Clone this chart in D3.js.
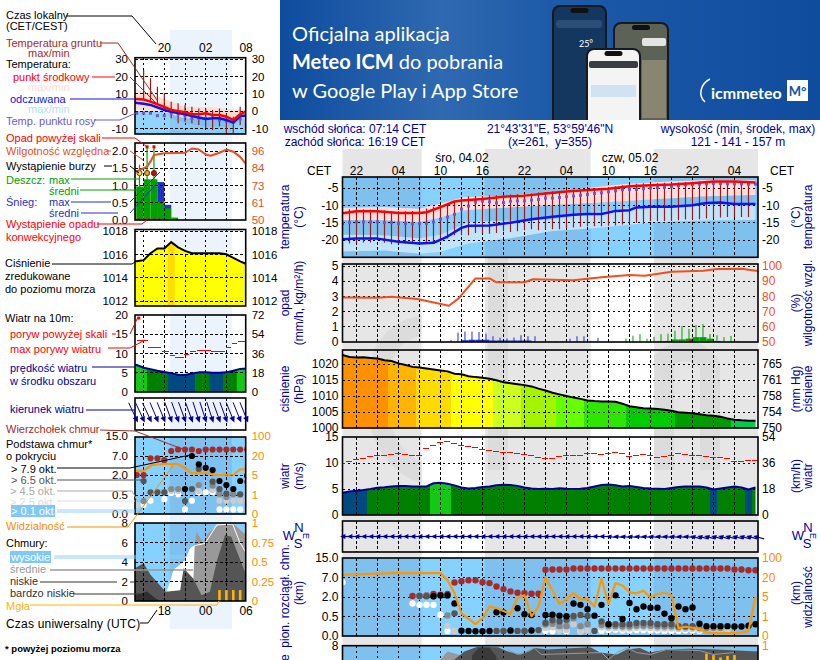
<!DOCTYPE html>
<html lang="pl">
<head>
<meta charset="UTF-8">
<title>Meteogram ICM</title>
<script src="https://cdn.jsdelivr.net/npm/d3@7"></script>
<style>
  html, body { margin: 0; padding: 0; background: #fff; overflow: hidden; }
  svg { display: block; }
  text { font-family: "Liberation Sans", Arial, sans-serif; font-size: 12px; white-space: pre; }
</style>
</head>
<body>
<svg id="chart" width="820" height="660"></svg>
<script>
// ---- data. "L" = small left legend chart, "R" = main chart
// hours are counted from 00 local on the day before the first date
const hoursR = d3.range(20, 80);
const hoursL = d3.range(15, 33);

// main chart: temperature
const tempMidH = [20,22,25,28,31,32,34,36,37,40,43,46,49,52,55,58,61,64,67,70,73,76,79];
const tempMid = [-12.3,-11.7,-11.7,-12.2,-12.2,-12,-10.5,-8.9,-8.6,-8.2,-7.5,-7.2,-6.6,-6,-5.6,-5.2,-4.5,-4.2,-4,-3.6,-3.1,-3.1,-3.4];
const tempFeelH = [20,22,25,28,31,33,35,37,38,41,44,47,50,53,55,57,59,61,62,64,67,70,72,74,76,79];
const tempFeel = [-19.8,-19.6,-19.6,-20.5,-21,-20.8,-19,-16.5,-15.9,-15.8,-15,-14,-13.3,-12.7,-12.5,-12.5,-11.6,-11.4,-10.6,-10.4,-10.4,-10,-9.3,-9.2,-9.6,-9.6];
const pinkH = [20,26,31,34,37.5,43,50,55,60,65,72,79];
const pinkTop = [-10.7,-10.5,-11,-9.5,-7.6,-7.2,-6.2,-5,-3.9,-3.3,-2.7,-2.8];
const pinkBot = [-14.2,-14.3,-14.8,-13.5,-11.4,-10.7,-9.9,-9.4,-8.8,-8.2,-7.4,-7];
const lightH = [20,26,31,34,38,44,50,56,62,65,72,79];
const lightTop = [-18.5,-18.6,-19.5,-18.5,-14.8,-14.4,-14,-12,-10.5,-10.2,-9.8,-9.7];
const lightBot = [-23.3,-23,-24,-23.4,-21,-19.5,-17.4,-16.6,-15.4,-14.8,-14.4,-14.2];
const dewR = [-15.2,-15,-14.8,-14.8,-14.8,-14.8,-15,-15,-15.2,-15.2,-15.3,-15.2,-15.2,-14.8,-14,-13.4,-12.6,-11.1,-10.2,-9.1,-8.8,-9,-9.3,-9.2,-8.8,-8.7,-8.7,-8.5,-8.3,-7.9,-7.9,-7.7,-7.5,-7.3,-7.1,-6.9,-6.6,-6.4,-6.1,-5.8,-5.5,-5.4,-5.4,-5.2,-5,-4.9,-4.8,-4.6,-4.3,-4.1,-4,-3.9,-3.8,-3.7,-3.7,-3.8,-3.8,-3.8,-3.9,-3.9];
const groundH = d3.range(21, 79);
const groundMaxR = [-11.1,-11.1,-11.2,-11.3,-11.4,-11.5,-11.6,-11.7,-11.7,-11.6,-11.3,-10.9,-10.4,-10,-9.4,-8.8,-8.1,-7.4,-7.3,-7.3,-7.1,-7.1,-7.1,-6.9,-6.8,-6.7,-6.6,-6.3,-6.2,-6,-5.9,-5.8,-5.7,-5.4,-5.2,-5.2,-5,-4.7,-4.5,-4.2,-3.9,-3.8,-3.6,-3.6,-3.6,-3.5,-3.4,-3.4,-3.3,-3.2,-3.1,-3.4,-3.1,-3.1,-3.1,-3.1,-3.2,-3.2];
const groundMinR = [-21,-20.8,-20.7,-20.7,-20.1,-20.8,-21.2,-21,-21,-21,-20.8,-21,-20.8,-20.1,-19.6,-18.6,-18.6,-18.6,-18,-18,-18.2,-18,-17.5,-17.7,-17.5,-17.2,-16.9,-17.2,-16.9,-16.9,-16.9,-16.6,-16.4,-16.2,-16,-16,-16,-15.9,-15.8,-15.5,-15.1,-15,-15.3,-14.6,-14.6,-14.5,-14.5,-14.3,-14.1,-14.1,-14,-13.8,-13.5,-13.5,-13.4,-13.4,-13.4,-13.4];

// main chart: precipitation and humidity
const humH = [20,25,27,30.7,35.2,36.6,39,41,42,46,47.2,53,57,61,63.2,67,71.6,73.5,77,79.4];
const humR = [79.5,79.3,79.9,78.4,74,78.9,92.2,92.2,89.6,89.6,91.6,90.9,92.9,94.4,94,96.7,97.3,98.4,98.7,97.1];
const snowMaxH = d3.range(35, 60);
const snowMax = [.1,.6,.67,.67,.64,.53,.36,.26,.21,.28,.43,.36,.36,.03,.05,.03,.05,.2,.36,.36,.05,.25,0,0,0];
const rainMaxH = d3.range(60, 77);
const rainMax = [.2,.4,.5,.2,.32,.5,.53,.73,1.03,.85,1.1,1.17,.5,.43,.3,.38,.05];
const snowMeanH = d3.range(37, 47);
const snowMean = [.1,.13,.13,.13,.08,.08,.08,.08,.08,.08];
const rainMeanH = d3.range(65, 74);
const rainMean = [.03,.05,.15,.15,.2,.3,.3,.2,.05];

// main chart: pressure, wind
const presR = [1022.8,1022.2,1022,1022.1,1021.9,1021.7,1021.2,1020.95,1020.2,1019.7,1019.1,1018.9,1018.6,1018.3,1018,1017.7,1016.95,1016.8,1016.2,1015.9,1015.7,1015.4,1014.9,1014.3,1014,1013.7,1013.4,1013,1012.3,1011.7,1011,1010.5,1010,1009.5,1009.1,1008.6,1008.4,1008.3,1008.3,1008.2,1007.6,1006.8,1006.5,1006.2,1006.1,1005.9,1005.7,1005.4,1004.9,1004.8,1004.6,1004.3,1004,1003.8,1003.5,1003,1002.6,1002.4,1002.3,1002.3];
const presBreaks = [1002.7,1005,1006.9,1008.7,1011,1013.5,1015.1,1017,1019,1021];
const presColors = ["#00cc50","#009c00","#00cc00","#2ee600","#66ff00","#a4f400","#ccff20","#ffff00","#ffdc00","#ffb400","#ff9000"];
const windR = [4.3,4.5,4.65,4.8,5,5.25,5.35,5.5,5.6,5.6,5.5,5.5,5.5,6.1,6.2,6,5.7,5.3,5.1,5.2,5.4,5.5,5.7,5.8,5.75,5.6,5.3,5.1,5,5.05,5,5.15,5.05,5,5.05,5.2,5.5,5.75,5.85,5.7,5.5,5.6,5.4,5.2,5.1,5.05,5,5.2,5.4,5.5,5.5,5.5,5.3,4.9,5.1,5.3,5.5,5.3,4.9,5.3];
const gustR = [9.9,10.3,10.6,10.8,11.3,11.5,11.5,11.7,11.9,11.7,11.5,11.5,12.8,13.3,13.9,14.2,13.8,13.4,13.2,12.9,12.6,12.4,12.2,12,12,11.9,11.7,11.4,11,10.9,10.9,11.2,11.4,11.5,11.5,11.9,11.9,11.6,11.8,12,11.9,11.3,11.4,11.6,11.4,11.1,11.2,11.5,11.9,11.6,11.4,11.4,11.3,11.1,11,10.8,10.2,10.2,10.4,10.4];
const windBreaks = [5, 6];
const windColors = ["#004a80", "#008000", "#14c814"];
const dirR = hoursR.map(h => h < 58 ? 90 : h < 70 ? 97 : 105);

// main chart: cloud base dots
const topH = d3.range(30, 80);
const topR = [2.25,2.25,2.4,2.76,2.6,2.76,5.7,6.07,6.3,6.3,5.8,5.56,4.7,4.03,3.44,3.1,3,2.85,2.85,10.2,10.3,10.3,10.3,10.7,10.7,10.7,10.7,10.7,10.7,10.7,10.7,10.7,10.7,10.7,10.7,10.7,10.7,10.7,10.7,10.7,10.7,10.7,10.7,10.7,10.7,10.7,10.3,10.3,10,10];
const blackH = [33,34,35,36,37,38,39,40,41,42,43,44,45,46,47,47,49,50,51,52,53,54,55,56,57,58,59,60,61,62,63,64,65,66,67,68,69,70,71,72,73,74,75,76,77,78,79];
const blackR = [2.2,2.4,2.4,1.5,.136,.127,.12,.12,.127,.82,.79,.14,1.13,.66,.6,.14,.6,.63,.55,.5,1.5,1.39,1.05,.55,1.39,.3,2.42,.43,1.53,1.05,1.26,1.16,1.16,.71,.45,1.26,1.05,1.18,.31,.25,.25,.25,.25,.24,.24,.26,.3];
const dark55H = [31,32,33,36,42,43,45,46,48,49,50,51,52,53,54,55,56,57,58,59,60,61,62,63,64,65,66,67,68,69,70];
const dark55R = [2.25,2.2,2.2,.73,.13,.13,.13,.13,.15,.33,.4,.37,.41,.52,.6,.52,.13,.37,.3,.3,.3,.3,.33,.33,.33,.3,.3,.3,.25,.25,.25];
const grey88H = [31,32,35,44,46,49,50,51,52,53,54,55,57,58,59,60,61,62,63,64,65,66,67,68,69,70,71,72,73,74];
const grey88R = [2.25,2.4,.57,.13,.13,.29,.31,.25,.25,.45,.25,.3,.28,.25,.25,.24,.24,.26,.26,.26,.24,.24,.24,.22,.22,.22,.2,.2,.2,.2];
const lightCcH = [31,35,36,49,50,51,52,53,54,55,56,57,58,59,60,61,62,63,64,65,66,67,68,69,70,71,72,73,74,75];
const lightCcR = [2.1,.26,.13,.2,.22,.13,.15,.3,.13,.14,.13,.22,.2,.2,.19,.19,.21,.21,.2,.19,.19,.19,.18,.18,.18,.16,.16,.16,.16,.16];
const whiteH = [20,30,31,32,33,34,35,49,50,52,54,57,58,59,60,61,62,63,64,65,66,67,68,69,70,71];
const whiteR = [5.8,1.5,1.39,1.4,1.39,.62,.13,.13,.12,.12,.12,.13,.15,.16,.14,.14,.15,.15,.14,.14,.13,.13,.13,.14,.14,.13];
const visH = [20,27,34,35,36,37,39,40,41,42,43,44,45,46,47,48,49,50,51,52,53,54,55,56,57,58,59,60,61,62,63,64,65,66,67,68,69,70,71,72,73,76,77,78,79];
const visR = [31,38,38,18,8,1.6,.6,.9,3,2.7,2.1,1.5,4.8,6.3,1,3,20,9.8,3.6,4.5,8,4.5,4.6,3,19,3.5,15.7,13.9,8.6,7.8,9.8,4.9,7.3,8.3,6.3,.4,.47,.42,.36,.18,.15,.15,.18,.25,5];

// main chart: clouds (only the top of this panel fits on the page)
const midRH = [34,35,36,37];
const midR = [6.6,7.4,7.2,7];
const lowRH = [36,37.4,39.3,42.2,43.6,45.5,47.4,49.3,55.4,56.8,59.2,60.6,62.5,63.9,66.3,69.6,73.4,79.4];
const lowR = [6.6,7.4,7.9,7.85,7.4,7.1,7.76,7.6,7.84,7.3,7.1,7.6,7.76,7.3,7.6,7.7,7.6,7.4];
const veryLowRH = [38.5,39.5,41,42];
const veryLowR = [7,7.8,7.8,6.9];
const midLineH = [43.6,45,46.5,47.4,48.4,57,58,59.4,60.8,62,64,66.3,71,73,76];
const midLine = [7.6,7.1,7.4,7.76,7.1,7.3,6.6,7.4,7.76,7.3,7.1,7.6,7.5,7.1,7.3];
const fogRH = [72,73,74,75,76];
const fogR = [.9,.88,.85,.87,.88];

// left chart: temperature
const midLH = [15.75,17,18,20,21,23,24,25,26,27,28,29,30,31,31.8];
const midL = [6.9,6.6,5.4,2.3,.6,-.7,-1.9,-1.9,-1.3,-2.3,-2.3,-3.3,-5.2,-1.9,-.4];
const feelL = [4.8,4.2,3.5,.6,-.4,-1.9,-2.9,-3.8,-4.6,-4.2,-4.2,-5.2,-6.7,-2.9,-2.7];
const pinkLH = [15.75,20,23,26,29,31.8];
const pinkTopL = [13,7,2.5,2.5,1.1,.6];
const pinkBotL = [.6,-.7,-4.2,-4.2,-5,-4.2];
const lightLH = [15.75,20,21,23,26,29,31.8];
const lightTopL = [-.4,-1.3,-4.2,-7.1,-9,-9,-9];
const lightBotL = [-12,-12,-11,-12,-12.5,-12.5,-12.5];
const dewLH = d3.range(16, 32);
const dewL = [-1.3,-1.3,-1.3,-2.7,-2.7,-1.3,-1.9,-2.9,-4.2,-4.2,-4.2,-3.8,-5.2,-5.8,-6.2,-4.6];
const groundLH = d3.range(17, 32);
const groundMaxL = [23.7,18.9,14,10.2,5.4,4.5,3.5,2.5,1.5,1.5,.6,1.5,-1.4,-3.3,2.5];
const groundMinL = [7.3,5.4,3.5,.6,-4.2,-7.1,-6.2,-7.1,-8.1,-10,-11,-9,-12.9,-12.9,-8.1];

// left chart: precipitation and humidity
const humLH = [15.75,16.4,17.5,18,18.5,20,23,24,25,26,26.7,28,29,30,31,31.8];
const humL = [81.7,82.8,85,88.5,92.7,93.8,94.2,97,96.3,93,92.2,94.2,96.3,94.9,91.5,87];
const rainLH = [15,16,17,18,19,20,21];
const rainMeanL = [.97,.97,1.18,1.18,.53,.34,.07];
const snowMaxL = [0,0,0,0,1.1,.44,0];
const rainSpikeH = [16.4,17.5,18.5];
const rainSpikeL = [1.6,2.1,2.1];
const stormColors = ["#ffe100", "#f5a000", "#e00000"];

// left chart: pressure, wind
const presL = [1015.4,1015.4,1015.5,1016.1,1016.5,1016.5,1017.05,1016.6,1016.3,1016.1,1016.1,1016.1,1016.1,1016.1,1016,1015.7,1015.4,1015.15];
const windL = [7.2,7,6.3,5.9,5.5,5.2,4.9,4.5,4.4,4.8,5.1,5.1,4.98,4.98,5.1,5.5,6,6.1];
const gustStart = [16,17.7,19.6,20.8,21.6,22.9,23.7,24.7,26.8,28.9,29.8,30.7];
const gustEnd = [17.7,19.5,20.7,21.5,22.8,23.6,24.6,26.7,28.8,29.7,30.6,31.8];
const gustL = [13.5,11.6,10.5,9.6,8.9,9.8,10.5,10.8,10.5,11.6,12.7,13];
const dirLH = d3.range(16, 33);
const dirL = [335,335,335,337,338,340,340,340,340,342,342,342,340,340,338,338,338];

// left chart: cloud base dots
const topLH = d3.range(16, 33);
const topL = [2,2,6.4,6.4,5.9,9,9.6,9.6,9.6,9,9.6,9.6,9.6,9.6,9.6,9.6,9.6];
const blackLH = [23,24,25,26,27,28,29,30,31,32];
const blackL = [.95,7,4.8,3.9,3.3,1.55,1.25,.95,1.55,1.95];
const dark55LH = [17,18,19,20,23,24,25,27,28,29,31,32];
const dark55L = [1.55,.7,.7,.7,.34,.95,3.6,1.5,.95,.6,.55,1.5];
const grey88LH = [17,21,22,25,27,28,29,30,31];
const grey88L = [.34,.95,.95,1.25,1.2,.6,.45,.55,.55];
const lightCcLH = [16,21,22,25,27,28,29,30,31,32];
const lightCcL = [.24,.8,.8,.8,.87,.35,.35,.35,.35,.35];
const whiteLH = [17,18,20,21,22,23,24,25,26,27,28,29,30,31];
const whiteL = [.24,.35,.39,.65,.55,.12,.35,.7,.7,.7,.12,.12,.12,.12];
const visLH = [15.75,17,18.2,20,22,23,24,26,27.2,28.2,30.1,31,31.8];
const visL = [8.2,8.2,12.9,13.7,13.7,10.3,6.3,6.8,5,5,5.4,9.5,9.5];

// left chart: clouds
const highLH = [20.4,20.9,21.4,22.3,23.1,23.8,24.5,25.9,27.6,29.9,30.9,31.8];
const highL = [.96,2,3.2,3.7,4.2,5.4,5.7,5.9,7.8,7.9,6.1,5];
const midCloudLH = [24.1,24.4,24.7,25.6,26.3,27.8,29.9,31.8];
const midCloudL = [0,5.7,7.1,5.9,6.9,7.8,8,6.8];
const lowLH = [15.75,17,18,20,20.2,22.3,22.8,24.2,25.4,26.6,27.6,28.8,29.7,31.2,31.8];
const lowL = [3.35,3.87,2.7,1.1,.96,1.1,3.35,2.3,.6,.96,4.05,6.77,6.6,3.87,2.8];
const veryLowLH = [15.75,17.5,18.7,19.4];
const veryLowL = [.56,.97,.27,0];
const fogLH = [28,29,30,31];
const fogL = [.14,.14,.14,.14];

// ---- tick labels
const tempTicksL = [30,20,10,0,-10];
const rainTicksL = [0,.5,1,1.5,2];
const rainLabelsR = {0:"50",.5:"61",1:"73",1.5:"84",2:"96"};
const presTicksL = [1012,1014,1016,1018];
const windTicksL = [0,5,10,15,20];
const baseTicks = [0,.5,2,7,15];
const visTicks = [0,1,5,20,100];
const cloudTicks = [0,2,4,6,8];
const fogTicks = [0,.25,.5,.75,1];
const tempTicksR = [-5,-10,-15,-20];
const presTicksR = [1000,1005,1010,1015,1020];
const mmHgLabels = ["750","754","758","761","765"];

const blue = "#000099", orange = "#ff8c00";
const svg = d3.select("#chart");
const xL = d3.scaleLinear().domain([15.75, 31.8]).range([135, 245.7]);
const xR = d3.scaleLinear().domain([20, 79.36]).range([342.5, 758]);
const nightR = [[20, 31.3], [40.35, 55.45], [64.5, 79.36]];
let clipId = 0;

function txt(g, x, y, s, color, anchor, weight) {
  return g.append("text").attr("x", x).attr("y", y).attr("fill", color || "#000")
    .attr("text-anchor", anchor || "start").attr("font-weight", weight || null).text(s);
}
// legend text of the left chart is a bit smaller
function ltxt(x, y, s, color) {
  return txt(svg, x, y, s, color).style("font-size", "11px");
}
function vtxt(g, x, y, s, color, anchor) {
  return g.append("text").attr("transform", `translate(${x},${y}) rotate(-90)`)
    .attr("fill", color).attr("text-anchor", anchor || "middle").text(s);
}
function lead(pts, color, w) {
  svg.append("path").attr("d", d3.line()(pts)).attr("fill", "none")
    .attr("stroke", color).attr("stroke-width", w || 1);
}

// a panel: clip, grid on request, border on request
function panel(x, y0, y1) {
  const id = "c" + (clipId++);
  const x0 = x.range()[0], x1 = x.range()[1];
  svg.append("clipPath").attr("id", id).append("rect")
    .attr("x", x0).attr("y", y0).attr("width", x1 - x0).attr("height", y1 - y0);
  const g = svg.append("g").attr("clip-path", `url(#${id})`);
  return { g, x0, x1, y0, y1, x };
}
function grid(p, y, values, hours) {
  const gg = p.g.append("g").attr("stroke", "#000").attr("stroke-dasharray", "2.5,2.5")
    .attr("shape-rendering", "crispEdges");
  gg.selectAll(".h").data(values).join("line").attr("class", "h")
    .attr("x1", p.x0).attr("x2", p.x1).attr("y1", d => y(d)).attr("y2", d => y(d));
  gg.selectAll(".v").data(hours).join("line").attr("class", "v")
    .attr("y1", p.y0).attr("y2", p.y1).attr("x1", d => p.x(d)).attr("x2", d => p.x(d));
}
function border(p) {
  svg.append("rect").attr("x", p.x0).attr("y", p.y0).attr("width", p.x1 - p.x0).attr("height", p.y1 - p.y0)
    .attr("fill", "none").attr("stroke", "#000").attr("stroke-width", 1.6);
}
function yAxis(p, scale, values, side, pad, color, fmt) {
  const ax = (side === "left" ? d3.axisLeft(scale) : d3.axisRight(scale))
    .tickValues(values).tickSize(0).tickPadding(pad).tickFormat(fmt || (d => d));
  const g = svg.append("g").attr("transform", `translate(${side === "left" ? p.x0 : p.x1},0)`).call(ax);
  g.select(".domain").remove();
  g.selectAll("text").attr("fill", color || "#000").style("font-size", p.x === xL ? "11.5px" : "12px")
    .style("font-family", '"Liberation Sans", Arial, sans-serif');
  return g;
}
function band(p, y, hs, top, bot, color, op) {
  p.g.append("path").datum(hs).attr("fill", color).attr("opacity", op || 1)
    .attr("d", d3.area().x(h => p.x(h)).y0((h, i) => y(bot[i])).y1((h, i) => y(top[i])));
}
function line(p, y, hs, vals, color, w) {
  p.g.append("path").datum(hs).attr("fill", "none").attr("stroke", color).attr("stroke-width", w)
    .attr("stroke-linejoin", "round")
    .attr("d", d3.line().x(h => p.x(h)).y((h, i) => y(vals[i])));
}
function vbars(p, y, hs, hi, lo, color, w, dx) {
  p.g.selectAll(null).data(hs).join("line").attr("stroke", color).attr("stroke-width", w)
    .attr("x1", h => p.x(h + (dx || 0))).attr("x2", h => p.x(h + (dx || 0)))
    .attr("y1", (h, i) => y(hi[i])).attr("y2", (h, i) => y(lo ? lo[i] : 0));
}
function dots(p, y, hs, vals, color, r) {
  p.g.selectAll(null).data(hs).join("circle").attr("r", r).attr("fill", color)
    .attr("cx", h => p.x(h)).attr("cy", (h, i) => y(vals[i]));
}
function squares(p, y, hs, vals, color, s) {
  p.g.selectAll(null).data(hs).join("rect").attr("width", s).attr("height", s).attr("fill", color)
    .attr("x", h => p.x(h) - s / 2).attr("y", (h, i) => y(vals[i]) - s / 2);
}
// blocks one hour wide, coloured from the value and cut off at the line on top
function hourBlocks(p, y, hs, vals, color) {
  const id = "c" + (clipId++);
  svg.append("clipPath").attr("id", id).append("path").datum(hs)
    .attr("d", d3.area().x(h => p.x(h)).y0(p.y1).y1((h, i) => y(vals[i])));
  const g = p.g.append("g").attr("clip-path", `url(#${id})`);
  g.selectAll(null).data(hs).join("rect")
    .attr("x", h => p.x(h - .5)).attr("width", h => p.x(h + .5) - p.x(h - .5) + .5)
    .attr("y", p.y0).attr("height", p.y1 - p.y0)
    .attr("fill", (h, i) => color(vals[i]));
}
function arrows(g, x, hs, dirs, yc, len, head, w) {
  hs.forEach((h, i) => {
    const a = dirs[i] * Math.PI / 180, sx = Math.sin(a), cy = Math.cos(a), px = x(h);
    g.append("line").attr("x1", px).attr("y1", yc).attr("x2", px + sx * len).attr("y2", yc - cy * len)
      .attr("stroke", blue).attr("stroke-width", w);
    g.append("path").attr("fill", blue).attr("d", d3.line()([
      [px - sx * head, yc + cy * head],
      [px + sx * head * 1.2 + cy * head, yc - cy * head * 1.2 + sx * head],
      [px + sx * head * 1.2 - cy * head, yc - cy * head * 1.2 - sx * head]]));
  });
}

// ---- banner
const defs = svg.append("defs");
const bg = defs.append("linearGradient").attr("id", "ban").attr("x1", 0).attr("x2", 1);
[[0, "#0e4c9e"], [.3, "#2f69b0"], [.5, "#1d5aa8"], [.8, "#1652a3"], [1, "#0f4c9e"]]
  .forEach(s => bg.append("stop").attr("offset", s[0]).attr("stop-color", s[1]));
svg.append("clipPath").attr("id", "banClip").append("rect").attr("x", 280).attr("y", 0).attr("width", 540).attr("height", 120);
const ban = svg.append("g").attr("clip-path", "url(#banClip)");
ban.append("rect").attr("x", 280).attr("y", 0).attr("width", 540).attr("height", 120).attr("fill", "url(#ban)");
ban.append("text").attr("x", 292).attr("y", 41).style("font", "20px Lato").attr("fill", "#fff").text("Oficjalna aplikacja");
const b2 = ban.append("text").attr("x", 292).attr("y", 69).style("font", "20px Lato").attr("fill", "#fff");
b2.append("tspan").style("font-weight", "bold").text("Meteo ICM");
b2.append("tspan").text(" do pobrania");
ban.append("text").attr("x", 292).attr("y", 98).style("font", "20px Lato").attr("fill", "#fff").text("w Google Play i App Store");
function phone(x, y, w, screen) {
  ban.append("rect").attr("x", x).attr("y", y).attr("width", w).attr("height", 140).attr("rx", 8).attr("fill", "#16191d");
  ban.append("rect").attr("x", x + 2).attr("y", y + 2).attr("width", w - 4).attr("height", 136).attr("rx", 6).attr("fill", screen);
  ban.append("rect").attr("x", x + w / 2 - 9).attr("y", y + 3).attr("width", 18).attr("height", 5).attr("rx", 2.5).attr("fill", "#111");
}
phone(552, 5, 55, "#14375f");
ban.append("rect").attr("x", 556).attr("y", 20).attr("width", 46).attr("height", 8).attr("rx", 3).attr("fill", "#2b4d78");
ban.append("text").attr("x", 586).attr("y", 47).attr("fill", "#fff").attr("text-anchor", "middle").style("font", "9px Lato").text("25°");
phone(613, 22, 56, "#5d6257");
ban.append("rect").attr("x", 642).attr("y", 38).attr("width", 24).attr("height", 8).attr("rx", 2).attr("fill", "#e4e4e4");
ban.append("rect").attr("x", 642).attr("y", 60).attr("width", 24).attr("height", 58).attr("fill", "#8a8570");
phone(586, 48, 55, "#f4f4f4");
ban.append("rect").attr("x", 589).attr("y", 61).attr("width", 49).attr("height", 7).attr("rx", 2).attr("fill", "#3a3d42");
ban.append("rect").attr("x", 591).attr("y", 85).attr("width", 45).attr("height", 12).attr("fill", "#cfe3f3");
ban.append("path").attr("d", "M710,79 C700,84 698,96 705,102").attr("fill", "none").attr("stroke", "#fff").attr("stroke-width", 1.5);
ban.append("text").attr("x", 711).attr("y", 99).attr("fill", "#fff").style("font", "bold 16px Lato").text("icmmeteo");
ban.append("rect").attr("x", 787).attr("y", 80).attr("width", 21).attr("height", 21).attr("fill", "#fff");
ban.append("text").attr("x", 797.5).attr("y", 96).attr("text-anchor", "middle").attr("fill", "#1652a3").style("font", "bold 13px Lato").text("M°");

// night columns behind the main chart, with the faint logo in them
nightR.forEach(n => svg.append("rect").attr("x", xR(n[0])).attr("y", 149).attr("width", xR(n[1]) - xR(n[0]))
  .attr("height", 511).attr("fill", "#e6e6e6"));
svg.append("clipPath").attr("id", "nightClip").selectAll("rect").data(nightR).join("rect")
  .attr("x", n => xR(n[0])).attr("y", 149).attr("width", n => xR(n[1]) - xR(n[0])).attr("height", 511);
const mark = svg.append("g").attr("clip-path", "url(#nightClip)").attr("fill", "none").attr("stroke", "#dcdcdc").attr("stroke-width", 20);
mark.append("path").attr("d", "M440,325 C385,320 370,370 377,410 C383,450 405,470 430,475");
mark.append("path").attr("d", "M498,255 V470");
mark.append("path").attr("d", "M664,470 V360 C680,345 700,350 710,365 V470");

// ---- header text of the main chart
txt(svg, 355, 133, "wschód słońca: 07:14 CET", blue, "middle");
txt(svg, 355, 146, "zachód słońca: 16:19 CET", blue, "middle");
txt(svg, 550, 133, "21°43'31\"E, 53°59'46\"N", blue, "middle");
txt(svg, 550, 146, "(x=261,  y=355)", blue, "middle");
txt(svg, 738, 133, "wysokość (min, środek, max)", blue, "middle");
txt(svg, 738, 146, "121 - 141 - 157 m", blue, "middle");
txt(svg, 462, 162, "śro, 04.02", "#000", "middle");
txt(svg, 630, 162, "czw, 05.02", "#000", "middle");
txt(svg, 319, 175, "CET", "#000", "middle");
txt(svg, 782, 175, "CET", "#000", "middle");

const hourLabelsR = [22, 28, 34, 40, 46, 52, 58, 64, 70, 76];
hourLabelsR.forEach(h => txt(svg, xR(h), 175, d3.format("02")(h % 24), "#000", "middle"));
const gridR = d3.range(22, 79, 3);
const gridL = d3.range(17, 32, 3);

// ---- left chart: light night stripe
svg.append("rect").attr("x", xL(20.8)).attr("y", 30).attr("width", xL(29.8) - xL(20.8)).attr("height", 599).attr("fill", "#ebf3fd");
[20, 26, 32].forEach((h, i) => txt(svg, xL(h) - (i === 2 ? 1 : 0), 52, ["20","02","08"][i], "#000", "middle"));
[20, 26, 32].forEach((h, i) => txt(svg, xL(h) - (i === 2 ? 1 : 0), 615, ["18","00","06"][i], "#000", "middle"));

// ---- left: temperature
{
  const p = panel(xL, 57.7, 134);
  const y = d3.scaleLinear().domain([0, 30]).range([111, 59]);
  p.g.append("rect").attr("x", p.x0).attr("width", p.x1 - p.x0).attr("y", y(0)).attr("height", p.y1 - y(0)).attr("fill", "#85d1ff");
  p.g.append("rect").attr("x", xL(20.8)).attr("width", xL(29.8) - xL(20.8)).attr("y", y(0)).attr("height", p.y1 - y(0)).attr("fill", "#7ec0ee");
  band(p, y, pinkLH, pinkTopL, pinkBotL, "#ffdcd0", .9);
  band(p, y, lightLH, lightTopL, lightBotL, "#a8dcfc", .35);
  grid(p, y, tempTicksL, gridL);
  vbars(p, y, groundLH, groundMaxL, groundMinL, "#a01818", 1.2);
  squares(p, y, dewLH, dewL, "#6a5acd", 3);
  line(p, y, midLH, feelL, "#0a14f0", 2.5);
  line(p, y, midLH, midL, "#ff0000", 2.5);
  border(p);
  yAxis(p, y, tempTicksL, "left", 7);
  yAxis(p, y, tempTicksL, "right", 6);
}
// ---- left: precipitation
{
  const p = panel(xL, 143, 220);
  const y = d3.scaleLinear().domain([0, 2]).range([220, 151]);
  const yHum = d3.scaleLinear().domain([50, 96]).range([220, 150]);
  rainLH.forEach((h, i) => {
    p.g.append("rect").attr("x", xL(h)).attr("width", xL(h + 1) - xL(h)).attr("y", y(snowMaxL[i])).attr("height", 220 - y(snowMaxL[i])).attr("fill", "#1e32c8");
    p.g.append("rect").attr("x", xL(h)).attr("width", xL(h + 1) - xL(h)).attr("y", y(rainMeanL[i])).attr("height", 220 - y(rainMeanL[i])).attr("fill", "#00a000");
  });
  grid(p, y, [.5, 1, 1.5, 2], gridL);
  vbars(p, y, rainSpikeH, rainSpikeL, null, "#00a000", 1.2);
  squares(p, y, rainSpikeH.slice(1), [2.12, 2.12], "#e00000", 3);
  p.g.selectAll(null).data(rainSpikeH).join("circle").attr("r", 2.6).attr("cx", h => xL(h)).attr("cy", y(1.36))
    .attr("fill", (h, i) => stormColors[i]).attr("stroke", "#222").attr("stroke-width", .8);
  p.g.append("line").attr("x1", xL(16.2)).attr("x2", xL(19.9)).attr("y1", 219).attr("y2", 219).attr("stroke", "#e00000").attr("stroke-dasharray", "2,3").attr("stroke-width", 1.5);
  line(p, yHum, humLH, humL, "#e8501e", 2);
  border(p);
  yAxis(p, y, rainTicksL, "left", 7, "#000", d3.format(".1f"));
  yAxis(p, y, rainTicksL, "right", 6, "#e8501e", d => rainLabelsR[d]);
}
// ---- left: pressure
{
  const p = panel(xL, 229.5, 306);
  const y = d3.scaleLinear().domain([1012, 1018]).range([301, 231]);
  hourBlocks(p, y, hoursL, presL, d3.scaleThreshold().domain(presBreaks).range(presColors));
  p.g.append("path").datum(hoursL).attr("fill", "none").attr("stroke", "#000").attr("stroke-width", 2)
    .attr("d", d3.line().x(h => xL(h)).y((h, i) => y(presL[i])));
  grid(p, y, presTicksL, gridL);
  border(p);
  yAxis(p, y, presTicksL, "left", 7);
  yAxis(p, y, presTicksL, "right", 6);
}
// ---- left: wind
{
  const p = panel(xL, 315, 392);
  const y = d3.scaleLinear().domain([0, 20]).range([392, 315]);
  hourBlocks(p, y, hoursL, windL, d3.scaleThreshold().domain(windBreaks).range(windColors));
  grid(p, y, [5, 10, 15], gridL);
  line(p, y, hoursL, windL, "#000099", 2);
  p.g.selectAll(null).data(gustStart).join("line").attr("stroke", "#ff0000").attr("shape-rendering", "crispEdges")
    .attr("x1", h => xL(h)).attr("x2", (h, i) => xL(gustEnd[i])).attr("y1", (h, i) => y(gustL[i])).attr("y2", (h, i) => y(gustL[i]));
  squares(p, y, [16.3], [19.2], "#ff0000", 3);
  border(p);
  const km = d3.scaleLinear().domain([0, 72]).range([392, 315]);
  yAxis(p, y, windTicksL, "left", 7);
  yAxis(p, km, [0, 18, 36, 54, 72], "right", 6);
}
// ---- left: wind direction
{
  const p = panel(xL, 398, 430);
  grid(p, d3.scaleLinear(), [], gridL);
  border(p);
  arrows(svg.append("g"), xL, dirLH, dirL, 420, 19, 2.8, 1);
}
// ---- left: cloud base
{
  const p = panel(xL, 437, 514);
  const y = d3.scaleLinear().domain(baseTicks).range([514, 495, 475, 456, 436]);
  const yVis = d3.scaleLinear().domain(visTicks).range([514, 495, 475, 456, 436]);
  p.g.append("rect").attr("x", p.x0).attr("width", p.x1 - p.x0).attr("y", p.y0).attr("height", 77).attr("fill", "#85d1ff");
  p.g.append("rect").attr("x", xL(20.8)).attr("width", xL(29.8) - xL(20.8)).attr("y", p.y0).attr("height", 77).attr("fill", "#7ec0ee");
  grid(p, y, [.5, 2, 7], gridL);
  dots(p, y, topLH, topL, "#a52a2a", 3.1);
  dots(p, y, whiteLH, whiteL, "#fff", 3.1);
  dots(p, y, lightCcLH, lightCcL, "#cccccc", 3.1);
  dots(p, y, grey88LH, grey88L, "#888888", 3.1);
  dots(p, y, dark55LH, dark55L, "#555555", 3.1);
  dots(p, y, blackLH, blackL, "#000", 3.1);
  line(p, yVis, visLH, visL, "#ff9600", 2.2);
  border(p);
  yAxis(p, y, baseTicks, "left", 7, "#000", d3.format(".1f"));
  yAxis(p, yVis, visTicks, "right", 6, orange);
}
// ---- left: clouds
{
  const p = panel(xL, 523, 601);
  const y = d3.scaleLinear().domain([0, 8]).range([601, 523]);
  const yFog = d3.scaleLinear().domain([0, 1]).range([601, 523]);
  p.g.append("rect").attr("x", p.x0).attr("width", p.x1 - p.x0).attr("y", p.y0).attr("height", 78).attr("fill", "#85d1ff");
  p.g.append("rect").attr("x", xL(20.8)).attr("width", xL(29.8) - xL(20.8)).attr("y", p.y0).attr("height", 78).attr("fill", "#7ec0ee");
  const zero = a => a.map(() => 0);
  band(p, y, highLH, highL, zero(highL), "#fff");
  band(p, y, midCloudLH, midCloudL, zero(midCloudL), "#999999");
  line(p, y, highLH, highL, "#fff", 1);
  band(p, y, lowLH, lowL, zero(lowL), "#555555");
  band(p, y, veryLowLH, veryLowL, zero(veryLowL), "#2f2f2f");
  grid(p, y, cloudTicks.slice(1, 4), gridL);
  p.g.selectAll(null).data(fogLH).join("rect").attr("x", h => xL(h) - 1.3).attr("width", 2.6)
    .attr("y", (h, i) => yFog(fogL[i])).attr("height", (h, i) => 601 - yFog(fogL[i])).attr("fill", "#ffb400");
  border(p);
  yAxis(p, y, cloudTicks, "left", 7);
  yAxis(p, yFog, fogTicks, "right", 6, orange);
}

// ---- main: temperature
{
  const p = panel(xR, 177, 257.3);
  const y = d3.scaleLinear().domain([-20, -5]).range([240, 188]);
  p.g.append("rect").attr("x", p.x0).attr("width", p.x1 - p.x0).attr("y", p.y0).attr("height", 81).attr("fill", "#85d1ff");
  nightR.forEach(n => p.g.append("rect").attr("x", xR(n[0])).attr("width", xR(n[1]) - xR(n[0])).attr("y", p.y0).attr("height", 81).attr("fill", "#7ec0ee"));
  band(p, y, lightH, lightTop, lightBot, "#c2e4fb");
  band(p, y, pinkH, pinkTop, pinkBot, "#ffdcdc");
  grid(p, y, tempTicksR, gridR);
  vbars(p, y, groundH, groundMaxR, groundMinR, "#a01818", 1.2);
  squares(p, y, hoursR, dewR, "#6a5acd", 3);
  line(p, y, tempFeelH, tempFeel, "#0a14f0", 2.5);
  line(p, y, tempMidH, tempMid, "#ff0000", 2.5);
  border(p);
  yAxis(p, y, tempTicksR, "left", 4);
  yAxis(p, y, tempTicksR, "right", 4);
  vtxt(svg, 289, 217, "temperatura", blue);
  vtxt(svg, 303, 217, "(°C)", blue);
  vtxt(svg, 800, 217, "(°C)", blue);
  vtxt(svg, 812, 217, "temperatura", blue);
}
// ---- main: precipitation
{
  const p = panel(xR, 264, 342);
  const y = d3.scaleLinear().domain([0, 5]).range([341.7, 266]);
  const yHum = d3.scaleLinear().domain([50, 100]).range([341.7, 266.7]);
  snowMeanH.forEach((h, i) => p.g.append("rect").attr("x", xR(h)).attr("width", xR(h + 1) - xR(h)).attr("y", y(snowMean[i])).attr("height", 341.7 - y(snowMean[i])).attr("fill", "#1e32c8"));
  rainMeanH.forEach((h, i) => p.g.append("rect").attr("x", xR(h)).attr("width", xR(h + 1) - xR(h)).attr("y", y(rainMean[i])).attr("height", 341.7 - y(rainMean[i])).attr("fill", "#00a000"));
  grid(p, y, [1, 2, 3, 4, 5], gridR);
  vbars(p, y, snowMaxH, snowMax, null, "#1e32c8", 1, .5);
  vbars(p, y, rainMaxH, rainMax, null, "#00a000", 1, .5);
  p.g.append("rect").attr("x", xR(69.6)).attr("y", 339.7).attr("width", 2).attr("height", 2).attr("fill", "#d00000");
  line(p, yHum, humH, humR, "#f0501e", 2);
  border(p);
  const rainTicks = [0, 1, 2, 3, 4, 5];
  yAxis(p, y, rainTicks, "left", 4);
  yAxis(p, y, rainTicks, "right", 4, "#f0501e", d => 50 + d * 10);
  vtxt(svg, 289, 303, "opad", blue);
  vtxt(svg, 303, 303, "(mm/h, kg/m²/h)", blue);
  vtxt(svg, 800, 303, "(%)", blue);
  vtxt(svg, 812, 303, "wilgotność wzgl.", blue);
}
// ---- main: pressure
{
  const p = panel(xR, 350, 428);
  const y = d3.scaleLinear().domain([1000, 1020]).range([428, 364]);
  hourBlocks(p, y, hoursR, presR, d3.scaleThreshold().domain(presBreaks).range(presColors));
  p.g.append("path").datum(hoursR).attr("fill", "none").attr("stroke", "#000").attr("stroke-width", 2)
    .attr("d", d3.line().x(h => xR(h)).y((h, i) => y(presR[i])));
  grid(p, y, presTicksR, gridR);
  border(p);
  yAxis(p, y, presTicksR, "left", 4);
  yAxis(p, y, presTicksR, "right", 4, "#000", d => mmHgLabels[presTicksR.indexOf(d)]);
  vtxt(svg, 289, 389, "ciśnienie", blue);
  vtxt(svg, 303, 389, "(hPa)", blue);
  vtxt(svg, 800, 389, "(mm Hg)", blue);
  vtxt(svg, 812, 389, "ciśnienie", blue);
}
// ---- main: wind
{
  const p = panel(xR, 437, 515);
  const y = d3.scaleLinear().domain([0, 15]).range([515, 437]);
  const km = d3.scaleLinear().domain([0, 54]).range([515, 437]);
  hourBlocks(p, y, hoursR, windR, d3.scaleThreshold().domain(windBreaks).range(windColors));
  grid(p, y, [5, 10], gridR);
  line(p, y, hoursR, windR, "#000099", 2);
  p.g.selectAll(null).data(hoursR).join("line").attr("stroke", "#ff0000").attr("shape-rendering", "crispEdges")
    .attr("x1", h => xR(h - .5)).attr("x2", h => xR(h + .4)).attr("y1", (h, i) => y(gustR[i])).attr("y2", (h, i) => y(gustR[i]));
  border(p);
  yAxis(p, y, [0, 5, 10, 15], "left", 4);
  yAxis(p, km, [0, 18, 36, 54], "right", 4);
  vtxt(svg, 289, 476, "wiatr", blue);
  vtxt(svg, 303, 476, "(m/s)", blue);
  vtxt(svg, 800, 476, "(km/h)", blue);
  vtxt(svg, 812, 476, "wiatr", blue);
}
// ---- main: wind direction
{
  const p = panel(xR, 521, 552);
  grid(p, d3.scaleLinear(), [], gridR);
  border(p);
  arrows(svg.append("g"), xR, hoursR, dirR, 536.5, 9, 2.4, 1.2);
  [[289,540,"W"],[299,532,"N"],[298,548,"S"],[798,540,"W"],[808,532,"N"],[807,548,"S"]].forEach(c =>
    svg.append("text").attr("x", c[0]).attr("y", c[1]).attr("fill", blue).attr("text-anchor", "middle").style("font-size", "13px").text(c[2]));
  [[303,536],[810,536]].forEach(c =>
    svg.append("text").attr("transform", `translate(${c[0]},${c[1]}) rotate(90)`).attr("fill", blue).attr("text-anchor", "middle").style("font-size", "9px").text("E"));
}
// ---- main: cloud base
{
  const p = panel(xR, 558, 636);
  const y = d3.scaleLinear().domain(baseTicks).range([636, 616.3, 597, 577.5, 558]);
  const yVis = d3.scaleLinear().domain(visTicks).range([636, 616.3, 597, 577.5, 558]);
  p.g.append("rect").attr("x", p.x0).attr("width", p.x1 - p.x0).attr("y", p.y0).attr("height", 78).attr("fill", "#85d1ff");
  nightR.forEach(n => p.g.append("rect").attr("x", xR(n[0])).attr("width", xR(n[1]) - xR(n[0])).attr("y", p.y0).attr("height", 78).attr("fill", "#7ec0ee"));
  grid(p, y, [.5, 2, 7], gridR);
  dots(p, y, topH, topR, "#a52a2a", 3.2);
  dots(p, y, whiteH, whiteR, "#fff", 3.2);
  dots(p, y, lightCcH, lightCcR, "#cccccc", 3.2);
  dots(p, y, grey88H, grey88R, "#888888", 3.2);
  dots(p, y, dark55H, dark55R, "#555555", 3.2);
  dots(p, y, blackH, blackR, "#000", 3.2);
  line(p, yVis, visH, visR, "#ff9600", 2.2);
  border(p);
  yAxis(p, y, baseTicks, "left", 4, "#000", d3.format(".1f"));
  yAxis(p, yVis, visTicks, "right", 4, orange);
  vtxt(svg, 289, 661, "e  pion. rozciągł. chm.", blue, "start");
  vtxt(svg, 303, 593, "(km)", blue);
  vtxt(svg, 800, 593, "(km)", blue);
  vtxt(svg, 812, 597, "widzialność", blue);
}
// ---- main: clouds, running off the bottom of the page
{
  const p = panel(xR, 645.7, 724);
  const y = d3.scaleLinear().domain([0, 8]).range([724, 645.7]);
  const yFog = d3.scaleLinear().domain([0, 1]).range([724, 645.7]);
  p.g.append("rect").attr("x", p.x0).attr("width", p.x1 - p.x0).attr("y", p.y0).attr("height", 79).attr("fill", "#85d1ff");
  nightR.forEach(n => p.g.append("rect").attr("x", xR(n[0])).attr("width", xR(n[1]) - xR(n[0])).attr("y", p.y0).attr("height", 79).attr("fill", "#7ec0ee"));
  const zero = a => a.map(() => 0);
  band(p, y, midRH, midR, zero(midR), "#999999");
  band(p, y, lowRH, lowR, zero(lowR), "#555555");
  band(p, y, veryLowRH, veryLowR, zero(veryLowR), "#3a3a3a");
  line(p, y, midLineH, midLine, "#999999", 1);
  grid(p, y, [], gridR);
  p.g.selectAll(null).data(fogRH).join("rect").attr("x", h => xR(h) - 1.3).attr("width", 2.6)
    .attr("y", (h, i) => yFog(fogR[i])).attr("height", (h, i) => 724 - yFog(fogR[i])).attr("fill", "#ffb400");
  border(p);
  yAxis(p, y, [8], "left", 4);
  yAxis(p, yFog, [1], "right", 4, orange);
}

// ---- legend texts and leader lines of the left chart
ltxt(6, 19, "Czas lokalny");
ltxt(6, 30, "(CET/CEST)");
lead([[66,16],[132,16],[156,44]], "#000");
ltxt(6, 47, "Temperatura gruntu", "#a52a2a");
ltxt(28, 57, "max/min", "#a52a2a");
lead([[100,43],[118,43],[157,100]], "#a52a2a");
ltxt(6, 68, "Temperatura:");
ltxt(13, 81, "punkt środkowy", "#ff0000");
lead([[92,77],[115,77]], "#ff0000");
lead([[130,77],[157,104]], "#ff0000");
ltxt(28, 91, "max/min", "#ffdccf");
ltxt(10, 103, "odczuwana", "#0a14f0");
lead([[70,99],[135,99]], "#0a14f0");
ltxt(28, 113, "max/min", "#b5e0fb");
ltxt(6, 125, "Temp. punktu rosy", "#6a5acd");
lead([[94,120],[120,120],[136,113]], "#6a5acd");
ltxt(6, 142, "Opad powyżej skali", "#ff0000");
lead([[102,138],[135,138],[146,146]], "#ff0000");
ltxt(6, 155, "Wilgotność względna", "#e8501e");
lead([[106,151],[111,151]], "#e8501e");
lead([[130,151],[143,160]], "#e8501e");
ltxt(6, 170, "Wystąpienie burzy");
lead([[104,166],[112,166]], "#000");
lead([[130,166],[139,173]], "#000");
ltxt(6, 184, "Deszcz:", "#00a000");
ltxt(49, 184, "max", "#00a000");
lead([[71,179],[139,179]], "#00a000");
ltxt(49, 195, "średni", "#00a000");
lead([[80,190],[158,190]], "#00a000");
ltxt(6, 206, "Śnieg:", "#1e32c8");
ltxt(49, 206, "max", "#1e32c8");
lead([[71,202],[111,202]], "#1e32c8");
lead([[130,202],[160,172]], "#1e32c8");
ltxt(49, 217, "średni", "#1e32c8");
lead([[81,213],[118,213]], "#1e32c8");
lead([[130,213],[158,182]], "#1e32c8");
ltxt(6, 228, "Wystąpienie opadu", "#ff0000");
ltxt(6, 241, "konwekcyjnego", "#ff0000");
lead([[97,224],[142,224],[147,220]], "#ff0000");
ltxt(5, 267, "Ciśnienie");
lead([[52,264],[132,264],[135,262]], "#000");
ltxt(5, 280, "zredukowane");
ltxt(5, 293, "do poziomu morza");
ltxt(5, 322, "Wiatr na 10m:");
ltxt(10, 338, "poryw powyżej skali", "#ff0000");
lead([[112,334],[116,334]], "#ff0000");
lead([[130,334],[138,317]], "#ff0000");
ltxt(10, 353, "max porywy wiatru", "#ff0000");
lead([[108,348],[130,348],[145,340]], "#ff0000");
ltxt(10, 372, "prędkość wiatru", blue);
ltxt(10, 385, "w środku obszaru", blue);
lead([[92,367],[135,367]], blue);
ltxt(10, 413, "kierunek wiatru", blue);
lead([[86,410],[135,410]], blue);
ltxt(6, 433, "Wierzchołek chmur", "#a52a2a");
lead([[100,430],[135,431],[185,450]], "#a52a2a");
ltxt(6, 448, "Podstawa chmur*");
ltxt(6, 460, "o pokryciu");
ltxt(11, 473, "> 7.9 okt.");
lead([[57,468],[130,468],[190,455]], "#000");
ltxt(11, 484, "> 6.5 okt.", "#555555");
lead([[57,480],[143,480]], "#555555");
ltxt(10, 495, "> 4.5 okt.", "#aaaaaa");
lead([[57,491],[132,491],[138,502]], "#aaaaaa");
ltxt(10, 506, "> 2.5 okt.", "#dddddd");
lead([[57,501],[135,501]], "#dddddd");
svg.append("rect").attr("x", 11).attr("y", 505).attr("width", 44).attr("height", 12).attr("fill", "#7ec8fa");
ltxt(11, 515, "> 0.1 okt.", "#fff");
lead([[57,510],[135,510]], "#8ed0fa");
lead([[57,512],[135,512]], "#8ed0fa");
ltxt(6, 530, "Widzialność", orange);
lead([[67,527],[128,527],[175,463]], orange);
ltxt(6, 547, "Chmury:");
svg.append("rect").attr("x", 10).attr("y", 551).attr("width", 41).attr("height", 12).attr("fill", "#7ec8fa");
ltxt(11, 561, "wysokie", "#fff");
lead([[54,556],[185,556]], "#8ed0fa");
lead([[54,558],[185,558]], "#8ed0fa");
ltxt(10, 573, "średnie", "#999999");
lead([[50,570],[193,570]], "#999999", 1.4);
ltxt(10, 585, "niskie", "#333");
lead([[40,582],[117,582]], "#333");
lead([[130,582],[135,582]], "#333");
ltxt(10, 597, "bardzo niskie", "#333");
lead([[73,594],[140,594]], "#333");
ltxt(6, 610, "Mgła", "#ffb400");
lead([[30,605],[217,605],[219,601]], "#ffb400");
txt(svg, 6, 628, "Czas uniwersalny (UTC)").style("letter-spacing", ".2px");
lead([[140,623],[148,623],[157,610]], "#000");
svg.append("text").attr("x", 5).attr("y", 652).attr("fill", "#000").style("font-size", "9.5px").style("font-weight", "bold").text("* powyżej poziomu morza");
</script>
</body>
</html>
